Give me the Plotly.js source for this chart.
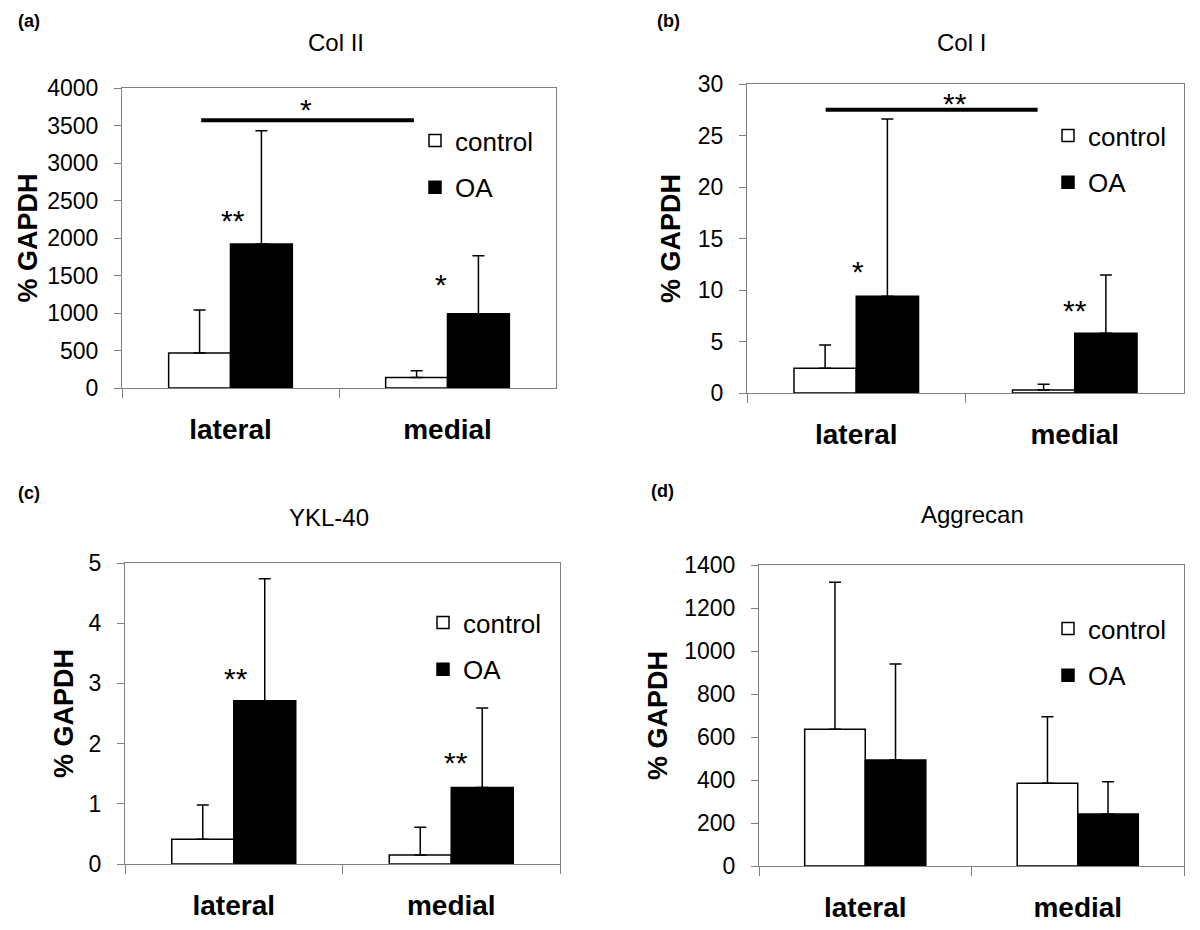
<!DOCTYPE html>
<html>
<head>
<meta charset="utf-8">
<script src="https://cdn.plot.ly/plotly-3.0.1.min.js"></script>
<style>
  body { margin: 0; background: #fff; }
  #chart { width: 1200px; height: 930px; }
</style>
</head>
<body>
<div id="chart"></div>
<script>
var sites = ['lateral', 'medial'];

// Col II
var colIIControl = [467, 140];
var colIIControlErr = [573, 90];
var colIIOA = [1920, 990];
var colIIOAErr = [1510, 775];

// Col I
var colIControl = [2.4, 0.3];
var colIControlErr = [2.25, 0.55];
var colIOA = [9.4, 5.8];
var colIOAErr = [17.2, 5.65];

// YKL-40
var yklControl = [0.41, 0.15];
var yklControlErr = [0.57, 0.46];
var yklOA = [2.71, 1.27];
var yklOAErr = [2.03, 1.32];

// Aggrecan
var aggControl = [636, 385];
var aggControlErr = [684, 309];
var aggOA = [493, 242];
var aggOAErr = [447, 150];

var font = 'Liberation Sans, Arial, sans-serif';
var gray = '#808080';

function barPair(ctl, ctlErr, oa, oaErr, n) {
  var suffix = n === 1 ? '' : String(n);
  var common = {
    type: 'bar',
    x: sites,
    xaxis: 'x' + suffix,
    yaxis: 'y' + suffix,
    legend: 'legend' + suffix,
    hoverinfo: 'skip'
  };
  var control = Object.assign({}, common, {
    name: 'control',
    legendgroup: 'c' + n,
    y: ctl,
    marker: {color: '#ffffff', line: {color: '#000', width: 1.5}},
    error_y: {type: 'data', symmetric: false, array: ctlErr, arrayminus: [0, 0],
              color: '#000', thickness: 1.5, width: 6}
  });
  var oaTrace = Object.assign({}, common, {
    name: 'OA',
    legendgroup: 'o' + n,
    y: oa,
    marker: {color: '#000000', line: {color: '#000', width: 1.5}},
    error_y: {type: 'data', symmetric: false, array: oaErr, arrayminus: [0, 0],
              color: '#000', thickness: 1.5, width: 6}
  });
  return [control, oaTrace];
}

var data = [].concat(
  barPair(colIIControl, colIIControlErr, colIIOA, colIIOAErr, 1),
  barPair(colIControl, colIControlErr, colIOA, colIOAErr, 2),
  barPair(yklControl, yklControlErr, yklOA, yklOAErr, 3),
  barPair(aggControl, aggControlErr, aggOA, aggOAErr, 4)
);

function xAxis(domain, anchor) {
  return {
    domain: domain, anchor: anchor, type: 'category',
    showline: true, mirror: true, linecolor: gray, linewidth: 1,
    ticks: 'outside', tickson: 'boundaries', ticklen: 9, tickcolor: gray,
    ticklabelstandoff: 16,
    tickfont: {family: font, size: 28, weight: 'bold', color: '#000'},
    showgrid: false, zeroline: false, fixedrange: true
  };
}

function yAxis(domain, anchor, range, dtick, standoff) {
  return {
    domain: domain, anchor: anchor, range: range, dtick: dtick,
    showline: true, mirror: true, linecolor: gray, linewidth: 1,
    ticks: 'outside', ticklen: 7, tickcolor: gray, ticklabelstandoff: 11,
    tickfont: {family: font, size: 23, color: '#000'},
    showgrid: false, zeroline: false, fixedrange: true,
    title: {text: '% GAPDH', standoff: standoff,
            font: {family: font, size: 27, weight: 'bold', color: '#000'}}
  };
}

function legendBox(x, y) {
  return {
    x: x, y: y, xanchor: 'left', yanchor: 'top',
    font: {family: font, size: 26, color: '#000'},
    bgcolor: 'rgba(0,0,0,0)', tracegroupgap: 10, traceorder: 'grouped'
  };
}

function star(axis, x, y, text) {
  return {xref: axis, yref: axis.replace('x', 'y'), x: x, y: y, text: text,
          showarrow: false, yshift: -7,
          font: {family: font, size: 30, color: '#000'}};
}

function label(x, y, text, size, bold) {
  return {xref: 'paper', yref: 'paper', x: x / 1200, y: 1 - y / 930, text: text,
          showarrow: false, xanchor: 'center', yanchor: 'middle',
          font: {family: font, size: size, weight: bold ? 'bold' : 'normal', color: '#000'}};
}

var layout = {
  width: 1200, height: 930,
  margin: {l: 0, r: 0, t: 0, b: 0},
  paper_bgcolor: '#fff', plot_bgcolor: '#fff',
  barmode: 'group', bargap: 0.43, bargroupgap: 0,
  showlegend: true,
  xaxis: xAxis([122 / 1200, 556 / 1200], 'y'),
  yaxis: yAxis([1 - 388 / 930, 1 - 88 / 930], 'x', [0, 4000], 500, 1),
  xaxis2: xAxis([747 / 1200, 1184 / 1200], 'y2'),
  yaxis2: yAxis([1 - 393 / 930, 1 - 84 / 930], 'x2', [0, 30], 5, 9),
  xaxis3: xAxis([125 / 1200, 560 / 1200], 'y3'),
  yaxis3: yAxis([1 - 864 / 930, 1 - 563 / 930], 'x3', [0, 5], 1, 7),
  xaxis4: xAxis([759 / 1200, 1184 / 1200], 'y4'),
  yaxis4: yAxis([1 - 866 / 930, 1 - 565 / 930], 'x4', [0, 1400], 200, 8),
  legend: legendBox(415 / 1200, 1 - 117 / 930),
  legend2: legendBox(1048 / 1200, 1 - 112 / 930),
  legend3: legendBox(423 / 1200, 1 - 599 / 930),
  legend4: legendBox(1048 / 1200, 1 - 605 / 930),
  shapes: [
    {type: 'line', xref: 'x', yref: 'y', x0: -0.135, x1: 0.845, y0: 3570, y1: 3570,
     line: {color: '#000', width: 4}},
    {type: 'line', xref: 'x2', yref: 'y2', x0: -0.14, x1: 0.83, y0: 27.5, y1: 27.5,
     line: {color: '#000', width: 4}}
  ],
  annotations: [
    label(29, 21, '(a)', 18, true),
    label(668, 21, '(b)', 18, true),
    label(29, 493, '(c)', 18, true),
    label(662, 491, '(d)', 18, true),
    label(336, 42, 'Col II', 24, false),
    label(961, 42, 'Col I', 24, false),
    label(329, 517, 'YKL-40', 24, false),
    label(972, 514, 'Aggrecan', 24, false),
    star('x', 0.35, 3800, '*'),
    star('x', 0.01, 2330, '**'),
    star('x', 0.97, 1480, '*'),
    star('x2', 0.45, 28.8, '**'),
    star('x2', 0.01, 12.5, '*'),
    star('x2', 1.0, 8.7, '**'),
    star('x3', 0.01, 3.2, '**'),
    star('x3', 1.02, 1.81, '**')
  ]
};

Plotly.newPlot('chart', data, layout, {staticPlot: true});
</script>
</body>
</html>
